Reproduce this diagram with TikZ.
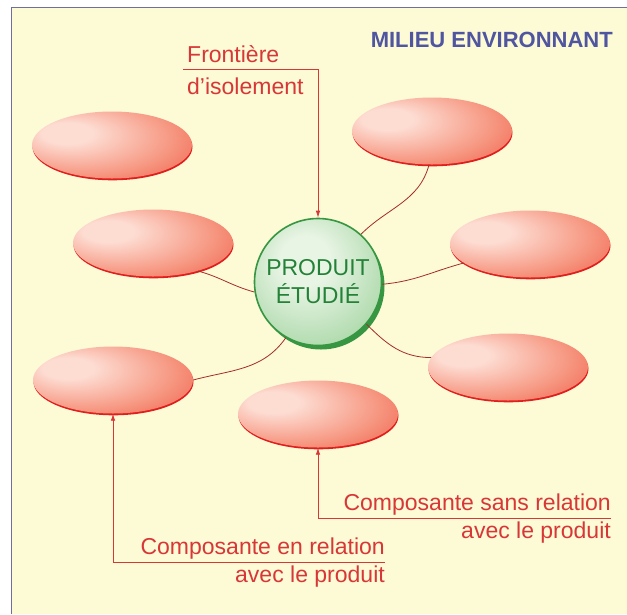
\documentclass[tikz,border=0pt]{standalone}
\usepackage{fontspec}
\setmainfont{Liberation Sans}
\usetikzlibrary{arrows.meta,positioning,shapes.geometric,shadows}

\definecolor{bgyellow}{RGB}{253,250,214}
\definecolor{frameblue}{RGB}{110,110,160}
\definecolor{labelred}{RGB}{215,55,55}
\definecolor{linkred}{RGB}{165,45,40}
\definecolor{titleblue}{RGB}{80,85,160}
\definecolor{pinkhi}{RGB}{253,220,210}
\definecolor{pinkmid}{RGB}{246,150,128}
\definecolor{pinklo}{RGB}{238,78,55}
\definecolor{redrim}{RGB}{225,30,30}
\definecolor{greenhi}{RGB}{232,244,228}
\definecolor{greenlo}{RGB}{115,192,115}
\definecolor{greenrim}{RGB}{55,150,65}
\definecolor{greentext}{RGB}{35,130,55}

\pgfdeclareradialshading{pinkblob}{\pgfpoint{-16bp}{10bp}}{color(0bp)=(pinkhi); color(8bp)=(pinkhi); color(28bp)=(pinkmid); color(46bp)=(pinklo); color(62bp)=(redrim)}
\pgfdeclareradialshading{greenball}{\pgfpoint{-6bp}{10bp}}{color(0bp)=(greenhi); color(10bp)=(greenhi); color(34bp)=(greenlo!55!greenhi); color(52bp)=(greenlo); color(62bp)=(greenlo)}

\begin{document}
\begin{tikzpicture}[x=1pt, y=1pt,
  blob/.style={ellipse, minimum width=160pt, minimum height=67pt, inner sep=0pt, shading=pinkblob,
    drop shadow={shadow xshift=0.5pt, shadow yshift=-1.8pt, fill=redrim, opacity=1}},
  prodball/.style={circle, minimum size=127pt, inner sep=0pt, shading=greenball, draw=greenrim, line width=1.6pt,
    drop shadow={shadow xshift=3pt, shadow yshift=-4pt, fill=greenrim, opacity=1},
    text=greentext, align=center, font=\fontsize{23}{28}\selectfont},
  link/.style={linkred, line width=0.8pt},
  lbl/.style={text=labelred, inner sep=0pt, font=\fontsize{23}{28}\selectfont},
  lblarrow/.style={labelred, line width=0.8pt, -{Latex[length=7pt,width=4.5pt]}},
  title/.style={text=titleblue, inner sep=0pt, font=\fontsize{22}{28}\selectfont\bfseries}]
\useasboundingbox (0,0) rectangle (627,-614);
% frame
\fill[bgyellow] (11,-7) rectangle (627,-614);
\draw[frameblue, line width=1pt] (11,-614) -- (11,-7) -- (627,-7);
\node[title, anchor=base east] (milieu) at (613,-47) {MILIEU ENVIRONNANT};
% components
\node[blob] (e1) at (112,-145) {};
\node[blob] (e2) at (153,-243) {};
\node[blob] (e3) at (113,-380) {};
\node[blob] (e4) at (432,-131) {};
\node[blob] (e5) at (530,-244) {};
\node[blob] (e6) at (508,-367) {};
\node[blob] (e7) at (318,-414) {};
% studied product
\node[prodball] (prod) at (318,-282) {PRODUIT\\ÉTUDIÉ};
% relations
\draw[link] (e4.-95) to[out=-105,in=45] (prod.48);
\draw[link] (e2.-32) to[out=-15,in=165] (prod.189);
\draw[link] (e5.196) to[out=195,in=5] (prod.-2);
\draw[link] (e6.173) to[out=180,in=-45] (prod.-41);
\draw[link] (e3.0) to[out=15,in=-125] (prod.-120);
% labels
\node[lbl, anchor=base west] (front1) at (187,-62) {Frontière};
\node[lbl, anchor=base west] (front2) at (187,-94) {d'isolement};
\coordinate (frontstart) at (183,-69);
\draw[lblarrow] (frontstart) -| (prod.north);
\node[lbl, anchor=base east] (sans1) at (611,-510) {Composante sans relation};
\node[lbl, anchor=base east] (sans2) at (611,-538) {avec le produit};
\coordinate (sansend) at (611,-518);
\draw[lblarrow] (sansend) -| (e7.south);
\node[lbl, anchor=base east] (en1) at (385,-554) {Composante en relation};
\node[lbl, anchor=base east] (en2) at (385,-582) {avec le produit};
\coordinate (enend) at (385,-562);
\draw[lblarrow] (enend) -| (e3.south);
\end{tikzpicture}
\end{document}
